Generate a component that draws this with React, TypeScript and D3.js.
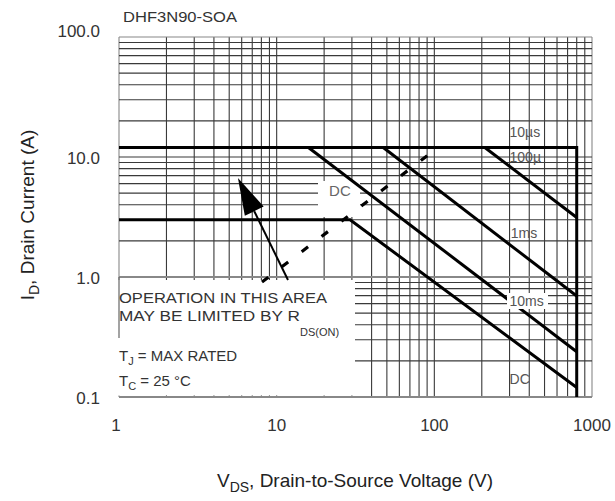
import React from "react";
import * as d3 from "d3";

const W = 615;
const H = 501;

// axis domains and ticks
const xDomain = [1, 1000];
const yDomain = [0.1, 100];
const xTicks = [1, 10, 100, 1000];
const xTickLabels = ["1", "10", "100", "1000"];
const yTicks = [0.1, 1, 10, 100];
const yTickLabels = ["0.1", "1.0", "10.0", "100.0"];

// SOA boundary curves: [V, I] points
const pulseLimit = [[1, 12], [800, 12], [800, 0.1]]; // 10µs envelope + BVDSS
const line100us = [[209, 12], [800, 3.13]];
const line1ms = [[47.4, 12], [800, 0.694]];
const line10ms = [[15.9, 12], [800, 0.238]];
const lineDC = [[1, 3], [29.2, 3], [800, 0.12]];
const rdsLimit = [[8.07, 0.908], [96.6, 11.0]];
const arrowTail = [11.8, 0.944];
const arrowTip = [5.68, 6.68];

// curve labels: text, V, I (baseline)
const curveLabels = [
  { t: "10µs", v: 300, i: 14.7 },
  { t: "100µ", v: 300, i: 9.1 },
  { t: "1ms", v: 305, i: 2.11 },
  { t: "10ms", v: 300, i: 0.573 },
  { t: "DC", v: 300, i: 0.128 },
];
const dcTopLabel = { t: "DC", v: 21.5, i: 4.75 };

export default function App() {
  const m = { l: 119, r: 592, t: 37, b: 397 };
  const x = d3.scaleLog().domain(xDomain).range([m.l, m.r]);
  const y = d3.scaleLog().domain(yDomain).range([m.b, m.t]);
  const line = d3
    .line<number[]>()
    .x((d) => x(d[0]))
    .y((d) => y(d[1]));

  const xGrid: number[] = [];
  for (let dec = 1; dec < 1000; dec *= 10)
    for (let k = 1; k <= 9; k++) xGrid.push(k * dec);
  xGrid.push(1000);
  const yGrid: number[] = [];
  for (let dec = 0.1; dec < 99; dec *= 10)
    for (let k = 1; k <= 9; k++) yGrid.push(+(k * dec).toFixed(3));
  yGrid.push(100);

  const font = "'Liberation Sans', Arial, sans-serif";

  // arrow head
  const tip = [x(arrowTip[0]), y(arrowTip[1])];
  const tail = [x(arrowTail[0]), y(arrowTail[1])];
  const dx = tail[0] - tip[0];
  const dy = tail[1] - tip[1];
  const len = Math.hypot(dx, dy);
  const ux = dx / len;
  const uy = dy / len;
  const hl = 37;
  const hw = 10.5;
  const bc = [tip[0] + ux * hl, tip[1] + uy * hl];
  const head = [
    tip,
    [bc[0] - uy * hw, bc[1] + ux * hw],
    [bc[0] + uy * hw, bc[1] - ux * hw],
  ];

  const gridColor = "#3a3a3a";
  const y1 = y(1);

  return (
    <svg
      width={W}
      height={H}
      style={{ position: "absolute", left: 0, top: 0, background: "#fff" }}
      fontFamily={font}
    >
      <rect x={0} y={0} width={W} height={H} fill="#fff" />
      {/* grid */}
      <g>
        {xGrid.map((v, i) => (
          <line
            key={"vx" + i}
            x1={x(v)}
            x2={x(v)}
            y1={m.t}
            y2={m.b}
            stroke={v === 1 || v === 1000 ? "#888" : gridColor}
            strokeWidth={1.1}
          />
        ))}
        {yGrid.map((v, i) => (
          <line
            key={"hy" + i}
            x1={m.l}
            x2={m.r}
            y1={y(v)}
            y2={y(v)}
            stroke={v === 100 || v === 0.1 || v === 1 ? "#888" : gridColor}
            strokeWidth={v === 1 || v === 0.1 ? 2.2 : 1.1}
          />
        ))}
      </g>
      {/* note box (no grid) */}
      <rect x={m.l - 2} y={y1 + 3} width={355 - m.l + 2} height={m.b - y1 - 4.5} fill="#fff" />
      <line x1={m.l} x2={m.l} y1={y1} y2={338} stroke="#666" strokeWidth={1.2} />
      {/* white patch behind top DC label */}
      <rect x={318} y={181} width={42} height={36} fill="#fff" />

      {/* RDS(on) dashed line */}
      <path
        d={line(rdsLimit) || ""}
        fill="none"
        stroke="#000"
        strokeWidth={3.2}
        strokeDasharray="8 17"
      />

      {/* SOA curves */}
      {[pulseLimit, line100us, line1ms, line10ms, lineDC].map((c, i) => (
        <path key={"c" + i} d={line(c) || ""} fill="none" stroke="#000" strokeWidth={3} />
      ))}

      {/* white patch behind 10ms label */}
      <rect x={507} y={293} width={41} height={16} fill="#fff" />

      {/* arrow */}
      <line x1={tail[0]} y1={tail[1]} x2={bc[0]} y2={bc[1]} stroke="#000" strokeWidth={2} />
      <polygon points={head.map((p) => p.join(",")).join(" ")} fill="#000" />

      {/* curve labels */}
      {curveLabels.map((l, i) => (
        <text key={"l" + i} x={x(l.v)} y={y(l.i)} fontSize={14} fill="#555">
          {l.t}
        </text>
      ))}
      <text x={x(dcTopLabel.v)} y={y(dcTopLabel.i)} fontSize={15} fill="#666">
        {dcTopLabel.t}
      </text>

      {/* note text */}
      <g fill="#333" fontSize={15}>
        <text x={119} y={303} textLength={208} lengthAdjust="spacingAndGlyphs">
          OPERATION IN THIS AREA
        </text>
        <text x={119} y={321}>
          <tspan textLength={181} lengthAdjust="spacingAndGlyphs">MAY BE LIMITED BY R</tspan>
          <tspan fontSize={11} dy={15}>DS(ON)</tspan>
        </text>
        <text x={119} y={361}>
          T<tspan fontSize={11} dy={4}>J</tspan>
          <tspan dy={-4}> = MAX RATED</tspan>
        </text>
        <text x={119} y={386}>
          T<tspan fontSize={11} dy={4}>C</tspan>
          <tspan dy={-4}> = 25 °C</tspan>
        </text>
      </g>

      {/* title */}
      <text x={123} y={22} fontSize={15} fill="#333" textLength={114} lengthAdjust="spacingAndGlyphs">
        DHF3N90-SOA
      </text>

      {/* tick labels */}
      {yTicks.map((v, i) => (
        <text
          key={"yt" + i}
          x={100}
          y={y(v) + (v === 100 ? -6 : 1)}
          textAnchor="end"
          dominantBaseline="central"
          fontSize={17}
          fill="#333"
        >
          {yTickLabels[i]}
        </text>
      ))}
      {xTicks.map((v, i) => (
        <text
          key={"xt" + i}
          x={x(v) - (v === 1 ? 3 : 0)}
          y={431}
          textAnchor="middle"
          fontSize={17}
          fill="#333"
        >
          {xTickLabels[i]}
        </text>
      ))}

      {/* axis titles */}
      <text x={355} y={487} textAnchor="middle" fontSize={19} fill="#222">
        V<tspan fontSize={14} dy={5}>DS</tspan>
        <tspan dy={-5}>, Drain-to-Source Voltage (V)</tspan>
      </text>
      <text
        transform="translate(34,215) rotate(-90)"
        textAnchor="middle"
        fontSize={19}
        fill="#222"
      >
        I<tspan fontSize={14} dy={5}>D</tspan>
        <tspan dy={-5}>, Drain Current (A)</tspan>
      </text>
    </svg>
  );
}
